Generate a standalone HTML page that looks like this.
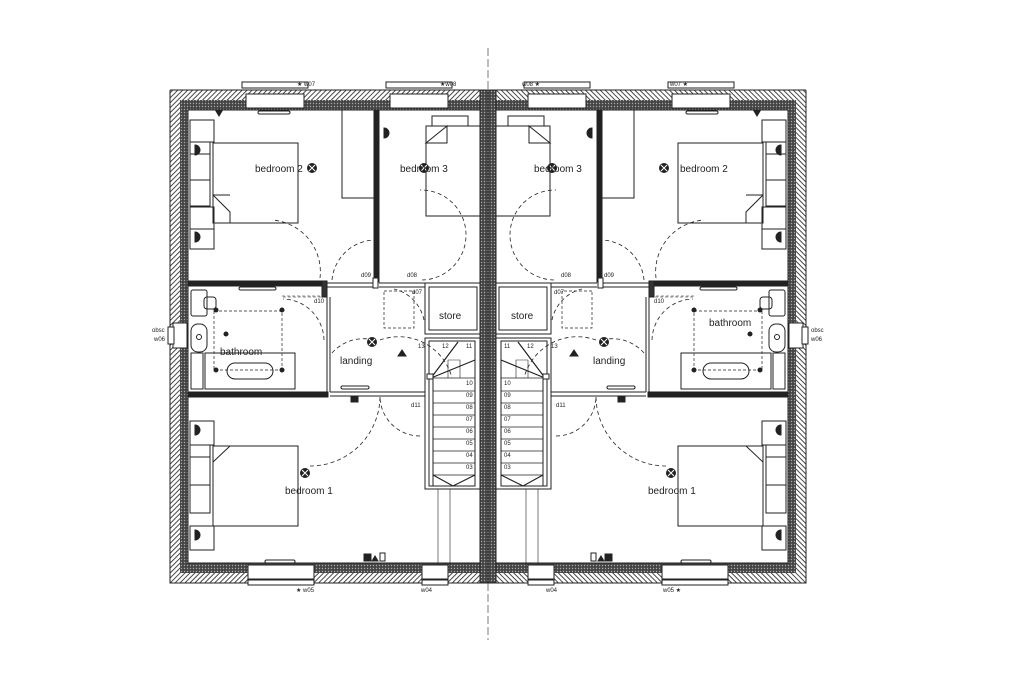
<!DOCTYPE html>
<html><head><meta charset="utf-8"><style>
html,body{margin:0;padding:0;background:#fff;}
svg{display:block;}
text{font-family:"Liberation Sans",sans-serif;fill:#222;}
</style></head><body>
<svg width="1024" height="683" viewBox="0 0 1024 683" xmlns="http://www.w3.org/2000/svg">
<defs>
<pattern id="hat" width="3.5" height="3.5" patternUnits="userSpaceOnUse" patternTransform="rotate(45)">
<rect width="3.5" height="3.5" fill="#fff"/><line x1="0" y1="0" x2="0" y2="3.5" stroke="#333" stroke-width="1.8"/>
</pattern>
<pattern id="blk" width="3" height="3" patternUnits="userSpaceOnUse">
<rect width="3" height="3" fill="#444"/><circle cx="1.5" cy="1.5" r="0.7" fill="#aaa"/>
</pattern>
<g id="lt"><circle r="4.5" fill="#222"/><path d="M-3 -3 L3 3 M-3 3 L3 -3" stroke="#fff" stroke-width="1"/></g>
<g id="half" fill="none" stroke="#222" stroke-width="1">
<rect x="170" y="90" width="318" height="10" fill="url(#hat)" stroke="none"/>
<rect x="170" y="90" width="10" height="493" fill="url(#hat)" stroke="none"/>
<rect x="170" y="573" width="318" height="10" fill="url(#hat)" stroke="none"/>
<rect x="180" y="100" width="308" height="10" fill="url(#blk)" stroke="none"/>
<rect x="180" y="100" width="8" height="473" fill="url(#blk)" stroke="none"/>
<rect x="180" y="563" width="308" height="10" fill="url(#blk)" stroke="none"/>
<path d="M170 90 H488 M170 90 V583 H488 M188 110 H480 M188 110 V563 H480"/>
<rect x="480" y="90" width="8" height="493" fill="url(#blk)" stroke="#222"/>
<rect x="242" y="82" width="66" height="6" fill="#fff"/>
<rect x="246" y="94" width="58" height="14" fill="#fff"/>
<rect x="386" y="82" width="66" height="6" fill="#fff"/>
<rect x="390" y="94" width="58" height="14" fill="#fff"/>
<rect x="258" y="111" width="32" height="3" rx="1.5"/>
<rect x="248" y="565" width="66" height="14" fill="#fff"/>
<rect x="248" y="580" width="66" height="5" fill="#fff"/>
<rect x="422" y="565" width="26" height="14" fill="#fff"/>
<rect x="422" y="580" width="26" height="5" fill="#fff"/>
<rect x="265" y="560" width="30" height="3" rx="1.5"/>
<rect x="173" y="323" width="14" height="25" fill="#fff"/>
<rect x="168" y="327" width="6" height="17" fill="#fff"/>
<rect x="374" y="110" width="5" height="172" fill="#222"/>
<rect x="188" y="281" width="136" height="5" fill="#222"/>
<rect x="322" y="281" width="5" height="16" fill="#333"/>
<path d="M327 283 H374 M327 287 H374 M379 283 H425 M379 287 H425"/>
<rect x="373" y="278" width="5" height="10" fill="#fff"/>
<rect x="188" y="392" width="140" height="5" fill="#222"/>
<path d="M327 297 V392 M330 297 V392 M330 392 H378 M330 396 H378 M378 392 H425 M378 396 H425"/>
<rect x="425" y="283" width="55" height="51" stroke-width="1"/>
<rect x="429" y="287" width="48" height="43" fill="#fff"/>
<rect x="425" y="338" width="55" height="151"/>
<rect x="429" y="341" width="46" height="145"/>
<path d="M429 379 V486 M433 379 V486"/>
<g stroke-width="0.8">
<path d="M433 391 H475 M433 403 H475 M433 415 H475 M433 427 H475 M433 439 H475 M433 451 H475 M433 463 H475 M433 475 H475"/>
<path d="M431 378 L458 342 M431 378 L475 360 M433 475 L453 486 L475 475" stroke-width="1.2"/>
<path d="M429 341 V378 M429 378 H475"/>
<path d="M448 360 H460 V378 M448 360 V378" stroke-width="0.6"/>
<path d="M450 489 V565 M438 489 V565" stroke-width="0.6"/>
</g>
<rect x="427" y="374" width="6" height="5" fill="#fff"/>
<rect x="190" y="120" width="24" height="22"/>
<rect x="190" y="142" width="20" height="12"/>
<rect x="190" y="154" width="20" height="26"/>
<rect x="190" y="180" width="20" height="26"/>
<rect x="213" y="143" width="85" height="80"/>
<path d="M213 195 L230 212 V223 M213 195 H230"/>
<rect x="190" y="207" width="24" height="22"/>
<rect x="190" y="229" width="24" height="20"/>
<rect x="342" y="110" width="32" height="88"/>
<rect x="432" y="116" width="36" height="10"/>
<rect x="426" y="126" width="54" height="90"/>
<path d="M426 143 L447 126 V143 Z"/>
<rect x="190" y="421" width="24" height="24"/>
<rect x="190" y="445" width="20" height="12"/>
<rect x="190" y="457" width="20" height="28"/>
<rect x="190" y="485" width="20" height="28"/>
<rect x="213" y="446" width="85" height="80"/>
<path d="M213 462 L230 446 H213"/>
<rect x="190" y="526" width="24" height="24"/>
<rect x="191" y="290" width="16" height="26" rx="2"/>
<rect x="204" y="297" width="12" height="12" rx="3"/>
<rect x="191" y="324" width="16" height="28" rx="7"/>
<circle cx="199" cy="337" r="2.5"/>
<rect x="191" y="353" width="12" height="36"/>
<rect x="205" y="353" width="90" height="36"/>
<rect x="227" y="363" width="46" height="16" rx="8"/>
<path d="M214 311 H282 V370 M214 311 V370 H282" stroke-dasharray="3,2" stroke-width="0.7"/>
<rect x="239" y="287" width="37" height="3" rx="1.5"/>
<rect x="282" y="296" width="44" height="1" stroke-width="0.6" stroke-dasharray="3,2"/>
<rect x="384" y="291" width="30" height="37" stroke-dasharray="3,2" stroke-width="0.7"/>
<rect x="341" y="386" width="28" height="3" rx="1.5"/>
<g stroke-dasharray="4,3" stroke-width="0.8">
<path d="M320 278 A52 52 0 0 0 272 220"/>
<path d="M332 280 A44 44 0 0 1 374 240"/>
<path d="M422 280 A44 44 0 0 0 420 190"/>
<path d="M324 340 A42 42 0 0 0 283 299"/>
<path d="M424 320 A40 40 0 0 0 394 289"/>
<path d="M332 353 A42 42 0 0 1 374 340"/>
<path d="M380 397 A70 70 0 0 1 310 466"/>
<path d="M420 436 A40 40 0 0 1 380 397"/>
<path d="M380 340 A55 55 0 0 1 452 378"/>
</g>
<use href="#lt" x="312" y="168"/><use href="#lt" x="424" y="168"/>
<use href="#lt" x="372" y="342"/><use href="#lt" x="305" y="473"/>
<g fill="#222">
<circle cx="226" cy="334" r="2"/>
<circle cx="216" cy="310" r="2"/><circle cx="282" cy="310" r="2"/>
<circle cx="216" cy="370" r="2"/><circle cx="282" cy="370" r="2"/>
<rect x="351" y="396" width="7" height="6"/>
<rect x="364" y="554" width="7" height="7"/>
<path d="M372 561 L375 556 L378 561 Z"/>
<path d="M398 356 L402 350 L406 356 Z"/>
<path d="M195 145 A3 3 0 0 1 195 155 Z M195 232 A3 3 0 0 1 195 242 Z M195 425 A3 3 0 0 1 195 435 Z M195 530 A3 3 0 0 1 195 540 Z M216 111 L222 111 L219 116 Z M384 128 A3 3 0 0 1 384 138 Z"/>
</g>
<rect x="380" y="553" width="5" height="8" fill="#fff"/>
</g>
</defs>
<use href="#half"/>
<use href="#half" transform="translate(976,0) scale(-1,1)"/>
<line x1="488" y1="48" x2="488" y2="90" stroke="#444" stroke-width="0.7" stroke-dasharray="8,3"/>
<line x1="488" y1="583" x2="488" y2="640" stroke="#444" stroke-width="0.7" stroke-dasharray="8,3"/>
<g font-size="10">
<text x="255" y="172">bedroom 2</text>
<text x="400" y="172">bedroom 3</text>
<text x="534" y="172">bedroom 3</text>
<text x="680" y="172">bedroom 2</text>
<text x="220" y="355">bathroom</text>
<text x="709" y="326">bathroom</text>
<text x="340" y="364">landing</text>
<text x="593" y="364">landing</text>
<text x="439" y="319">store</text>
<text x="511" y="319">store</text>
<text x="285" y="494">bedroom 1</text>
<text x="648" y="494">bedroom 1</text>
</g>
<g font-size="6" fill="#333">
<text x="297" y="86">★ w07</text><text x="440" y="86">★w08</text>
<text x="522" y="86">w08 ★</text><text x="670" y="86">w07 ★</text>
<text x="296" y="592">★ w05</text><text x="421" y="592">w04</text>
<text x="546" y="592">w04</text><text x="663" y="592">w05 ★</text>
<text x="152" y="332">obsc</text><text x="154" y="341">w06</text>
<text x="811" y="332">obsc</text><text x="811" y="341">w06</text>
<text x="361" y="277">d09</text><text x="407" y="277">d08</text>
<text x="561" y="277">d08</text><text x="604" y="277">d09</text>
<text x="314" y="303">d10</text><text x="654" y="303">d10</text>
<text x="412" y="294">d07</text><text x="554" y="294">d07</text>
<text x="411" y="407">d11</text><text x="556" y="407">d11</text>
<text x="418" y="348">13</text><text x="442" y="348">12</text><text x="466" y="348">11</text>
<text x="504" y="348">11</text><text x="527" y="348">12</text><text x="551" y="348">13</text>
<text x="466" y="385">10</text><text x="466" y="397">09</text><text x="466" y="409">08</text><text x="466" y="421">07</text><text x="466" y="433">06</text><text x="466" y="445">05</text><text x="466" y="457">04</text><text x="466" y="469">03</text>
<text x="504" y="385">10</text><text x="504" y="397">09</text><text x="504" y="409">08</text><text x="504" y="421">07</text><text x="504" y="433">06</text><text x="504" y="445">05</text><text x="504" y="457">04</text><text x="504" y="469">03</text>
</g>
</svg>
</body></html>
